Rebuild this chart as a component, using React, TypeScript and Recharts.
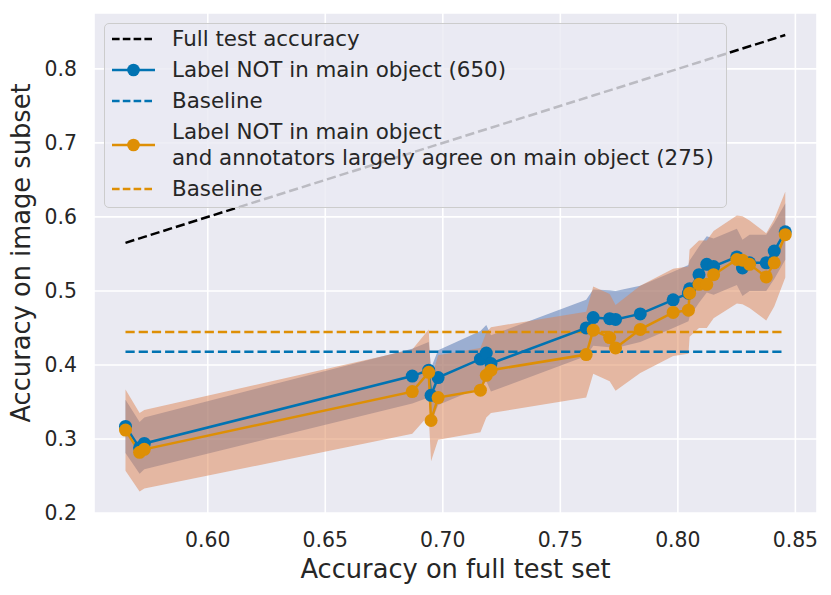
import React from 'react';
import {
  ComposedChart,
  Area,
  Line,
  XAxis,
  YAxis,
  CartesianGrid,
  Legend,
  Label
} from 'recharts';

// accuracy on the full test set, one entry per model
const fullTestAcc = [
  0.565, 0.571, 0.573, 0.687, 0.694, 0.695, 0.698, 0.716, 0.7185, 0.7205,
  0.761, 0.764, 0.771, 0.7735, 0.784, 0.798, 0.8045, 0.805, 0.809, 0.8123,
  0.8152, 0.8251, 0.8275, 0.8305, 0.8376, 0.841, 0.8457
];

// label NOT in main object (650)
const notMainAcc = [
  0.317, 0.288, 0.294, 0.385, 0.393, 0.359, 0.383, 0.408, 0.416, 0.402,
  0.45, 0.464, 0.4625, 0.4615, 0.469, 0.488, 0.497, 0.503, 0.522, 0.536,
  0.533, 0.546, 0.531, 0.538, 0.538, 0.554, 0.58
];
const notMainLow = [
  0.281, 0.253, 0.259, 0.348, 0.356, 0.322, 0.346, 0.37, 0.378, 0.364,
  0.412, 0.426, 0.424, 0.423, 0.431, 0.45, 0.459, 0.465, 0.484, 0.498,
  0.495, 0.508, 0.493, 0.5, 0.5, 0.516, 0.542
];
const notMainHigh = [
  0.353, 0.323, 0.329, 0.422, 0.431, 0.396, 0.42, 0.446, 0.454, 0.44,
  0.488, 0.502, 0.501, 0.5, 0.507, 0.526, 0.535, 0.541, 0.56, 0.574,
  0.571, 0.584, 0.569, 0.576, 0.576, 0.592, 0.618
];

// label NOT in main object and annotators largely agree (275)
const agreeAcc = [
  0.312, 0.282, 0.286, 0.364, 0.39, 0.325, 0.356, 0.366, 0.386, 0.393,
  0.414, 0.447, 0.437, 0.423, 0.448, 0.471, 0.474, 0.497, 0.509, 0.509,
  0.522, 0.5425, 0.5415, 0.536, 0.519, 0.538, 0.576
];
const agreeLow = [
  0.257, 0.229, 0.233, 0.307, 0.332, 0.27, 0.299, 0.309, 0.329, 0.335,
  0.356, 0.388, 0.378, 0.365, 0.389, 0.412, 0.415, 0.438, 0.45, 0.45,
  0.463, 0.483, 0.482, 0.477, 0.46, 0.479, 0.518
];
const agreeHigh = [
  0.367, 0.335, 0.339, 0.421, 0.448, 0.38, 0.413, 0.423, 0.444, 0.451,
  0.472, 0.506, 0.496, 0.481, 0.507, 0.53, 0.533, 0.556, 0.568, 0.568,
  0.581, 0.602, 0.601, 0.595, 0.578, 0.597, 0.634
];

const notMainBaseline = 0.418;
const agreeBaseline = 0.4445;

const xTicks = [0.6, 0.65, 0.7, 0.75, 0.8, 0.85];
const yTicks = [0.2, 0.3, 0.4, 0.5, 0.6, 0.7, 0.8];

const data = fullTestAcc.map((x, i) => ({
  x,
  full: x,
  notMain: notMainAcc[i],
  notMainBand: [notMainLow[i], notMainHigh[i]],
  notMainBase: notMainBaseline,
  agree: agreeAcc[i],
  agreeBand: [agreeLow[i], agreeHigh[i]],
  agreeBase: agreeBaseline
}));

const FONT = "'DejaVu Sans', sans-serif";
const TEXT = '#262626';
const BLUE = '#0173b2';
const ORANGE = '#de8f05';
const LW = 2.5;
const DASH = '9.2 4';

const legendItems = [
  { lines: ['Full test accuracy'], color: '#000000', dashed: true, dot: false },
  { lines: ['Label NOT in main object (650)'], color: BLUE, dashed: false, dot: true },
  { lines: ['Baseline'], color: BLUE, dashed: true, dot: false },
  {
    lines: ['Label NOT in main object', 'and annotators largely agree on main object (275)'],
    color: ORANGE,
    dashed: false,
    dot: true
  },
  { lines: ['Baseline'], color: ORANGE, dashed: true, dot: false }
];

const renderLegend = () => {
  let top = 2;
  return (
    <div
      style={{
        position: 'relative',
        width: 621,
        height: 183,
        background: 'rgba(234,234,242,0.8)',
        border: '1px solid #cccccc',
        borderRadius: 5,
        fontFamily: FONT,
        fontSize: 21.4,
        color: TEXT
      }}
    >
      {legendItems.map((item, i) => {
        const h = item.lines.length * 26;
        const y = top;
        top += h + 5;
        return (
          <div key={i} style={{ position: 'absolute', left: 0, top: y, height: h, width: 620 }}>
            <svg
              width={44}
              height={14}
              style={{ position: 'absolute', left: 7, top: h / 2 - 7 }}
            >
              <line
                x1={0}
                x2={43}
                y1={7}
                y2={7}
                stroke={item.color}
                strokeWidth={LW}
                strokeDasharray={item.dashed ? '7.6 3.2' : undefined}
              />
              {item.dot && <circle cx={21.5} cy={7} r={6.3} fill={item.color} />}
            </svg>
            <div
              style={{
                position: 'absolute',
                left: 67,
                top: 0,
                lineHeight: '26px',
                whiteSpace: 'nowrap'
              }}
            >
              {item.lines.map((l, j) => (
                <div key={j}>{l}</div>
              ))}
            </div>
          </div>
        );
      })}
    </div>
  );
};

const App = () => {
  return (
    <div style={{ position: 'absolute', left: 0, top: 0, width: 831, height: 595, background: '#fff' }}>
      <ComposedChart
        width={831}
        height={595}
        data={data}
        margin={{ top: 13, right: 14, bottom: 0, left: 0 }}
      >
        <CartesianGrid fill="#eaeaf2" stroke="#ffffff" strokeWidth={1.6} />
        <XAxis
          type="number"
          dataKey="x"
          domain={[0.5516, 0.8592]}
          ticks={xTicks}
          allowDataOverflow
          axisLine={false}
          tickLine={false}
          height={82}
          tick={(p: any) => (
            <text x={p.x} y={547} textAnchor="middle" fontSize={20.4} fontFamily={FONT} fill={TEXT}>
              {Number(p.payload.value).toFixed(2)}
            </text>
          )}
        >
          <Label
            content={() => (
              <text x={455.5} y={578} textAnchor="middle" fontSize={25.7} fontFamily={FONT} fill={TEXT}>
                Accuracy on full test set
              </text>
            )}
          />
        </XAxis>
        <YAxis
          type="number"
          domain={[0.2, 0.8755]}
          ticks={yTicks}
          allowDataOverflow
          axisLine={false}
          tickLine={false}
          width={94}
          tick={(p: any) => (
            <text x={77} y={p.y + 7} textAnchor="end" fontSize={20.4} fontFamily={FONT} fill={TEXT}>
              {Number(p.payload.value).toFixed(1)}
            </text>
          )}
        >
          <Label
            content={() => (
              <text
                x={30}
                y={253}
                textAnchor="middle"
                fontSize={25.7}
                fontFamily={FONT}
                fill={TEXT}
                transform="rotate(-90 30 253)"
              >
                Accuracy on image subset
              </text>
            )}
          />
        </YAxis>
        <Area
          type="linear"
          dataKey="notMainBand"
          fill="#4c72b0"
          fillOpacity={0.5}
          stroke="none"
          isAnimationActive={false}
          legendType="none"
        />
        <Area
          type="linear"
          dataKey="agreeBand"
          fill="#dd8452"
          fillOpacity={0.5}
          stroke="none"
          isAnimationActive={false}
          legendType="none"
        />
        <Line
          type="linear"
          dataKey="full"
          stroke="#000000"
          strokeWidth={LW}
          strokeDasharray={DASH}
          dot={false}
          isAnimationActive={false}
        />
        <Line
          type="linear"
          dataKey="notMainBase"
          stroke={BLUE}
          strokeWidth={LW}
          strokeDasharray={DASH}
          dot={false}
          isAnimationActive={false}
        />
        <Line
          type="linear"
          dataKey="agreeBase"
          stroke={ORANGE}
          strokeWidth={LW}
          strokeDasharray={DASH}
          dot={false}
          isAnimationActive={false}
        />
        <Line
          type="linear"
          dataKey="notMain"
          stroke={BLUE}
          strokeWidth={LW}
          dot={{ r: 6.5, fill: BLUE, stroke: 'none' }}
          activeDot={false}
          isAnimationActive={false}
        />
        <Line
          type="linear"
          dataKey="agree"
          stroke={ORANGE}
          strokeWidth={LW}
          dot={{ r: 6.5, fill: ORANGE, stroke: 'none' }}
          activeDot={false}
          isAnimationActive={false}
        />
        <Legend
          layout="vertical"
          align="center"
          verticalAlign="middle"
          wrapperStyle={{ left: 104, top: 23, width: 623, height: 185, bottom: 'auto', right: 'auto' }}
          content={renderLegend}
        />
      </ComposedChart>
    </div>
  );
};

export default App;
